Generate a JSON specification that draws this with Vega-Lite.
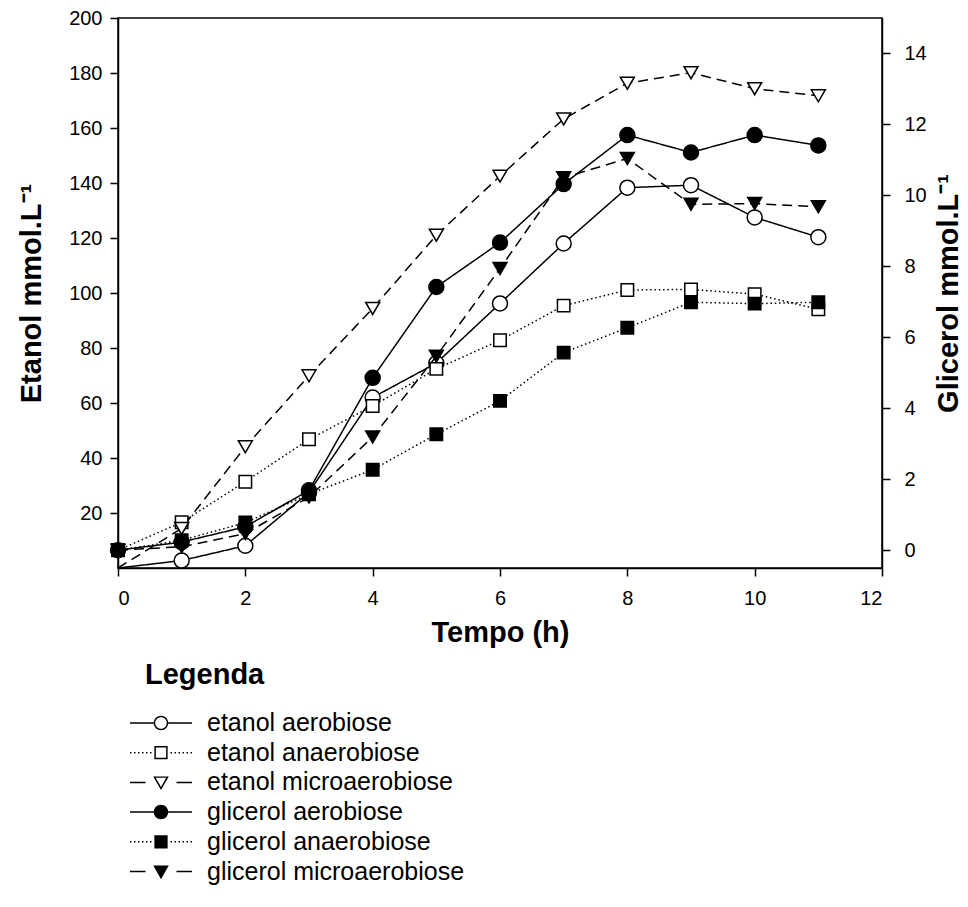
{
  "$schema": "https://vega.github.io/schema/vega-lite/v6.json",
  "width": 764,
  "height": 550,
  "autosize": "none",
  "padding": {"left": 118, "top": 18, "right": 86, "bottom": 339},
  "background": "white",
  "config": {
    "font": "Liberation Sans",
    "view": {"stroke": "black", "strokeWidth": 1.5},
    "axis": {
      "grid": false,
      "domainColor": "black",
      "domainWidth": 1.5,
      "tickColor": "black",
      "tickWidth": 1.5,
      "tickSize": 8,
      "labelColor": "black",
      "labelFont": "Liberation Sans",
      "labelFontSize": 20,
      "titleColor": "black",
      "titleFont": "Liberation Sans",
      "titleFontSize": 29,
      "titleFontWeight": "bold"
    }
  },
  "data": {
    "values": [
      {"substancia": "etanol", "serie": "etanol aerobiose", "tempo": 0, "valor": 0},
      {"substancia": "etanol", "serie": "etanol aerobiose", "tempo": 1, "valor": 2.7},
      {"substancia": "etanol", "serie": "etanol aerobiose", "tempo": 2, "valor": 8.1},
      {"substancia": "etanol", "serie": "etanol aerobiose", "tempo": 3, "valor": 27.5},
      {"substancia": "etanol", "serie": "etanol aerobiose", "tempo": 4, "valor": 62},
      {"substancia": "etanol", "serie": "etanol aerobiose", "tempo": 5, "valor": 74.5},
      {"substancia": "etanol", "serie": "etanol aerobiose", "tempo": 6, "valor": 96.2},
      {"substancia": "etanol", "serie": "etanol aerobiose", "tempo": 7, "valor": 118},
      {"substancia": "etanol", "serie": "etanol aerobiose", "tempo": 8, "valor": 138.3},
      {"substancia": "etanol", "serie": "etanol aerobiose", "tempo": 9, "valor": 139.2},
      {"substancia": "etanol", "serie": "etanol aerobiose", "tempo": 10, "valor": 127.5},
      {"substancia": "etanol", "serie": "etanol aerobiose", "tempo": 11, "valor": 120.3},
      {"substancia": "etanol", "serie": "etanol anaerobiose", "tempo": 0, "valor": 6.5},
      {"substancia": "etanol", "serie": "etanol anaerobiose", "tempo": 1, "valor": 16.6},
      {"substancia": "etanol", "serie": "etanol anaerobiose", "tempo": 2, "valor": 31.4},
      {"substancia": "etanol", "serie": "etanol anaerobiose", "tempo": 3, "valor": 46.8},
      {"substancia": "etanol", "serie": "etanol anaerobiose", "tempo": 4, "valor": 58.9},
      {"substancia": "etanol", "serie": "etanol anaerobiose", "tempo": 5, "valor": 72.4},
      {"substancia": "etanol", "serie": "etanol anaerobiose", "tempo": 6, "valor": 82.8},
      {"substancia": "etanol", "serie": "etanol anaerobiose", "tempo": 7, "valor": 95.4},
      {"substancia": "etanol", "serie": "etanol anaerobiose", "tempo": 8, "valor": 101.1},
      {"substancia": "etanol", "serie": "etanol anaerobiose", "tempo": 9, "valor": 101.3},
      {"substancia": "etanol", "serie": "etanol anaerobiose", "tempo": 10, "valor": 99.6},
      {"substancia": "etanol", "serie": "etanol anaerobiose", "tempo": 11, "valor": 94.1},
      {"substancia": "etanol", "serie": "etanol microaerobiose", "tempo": 0, "valor": 0},
      {"substancia": "etanol", "serie": "etanol microaerobiose", "tempo": 1, "valor": 14.4},
      {"substancia": "etanol", "serie": "etanol microaerobiose", "tempo": 2, "valor": 44.1},
      {"substancia": "etanol", "serie": "etanol microaerobiose", "tempo": 3, "valor": 69.9},
      {"substancia": "etanol", "serie": "etanol microaerobiose", "tempo": 4, "valor": 94.4},
      {"substancia": "etanol", "serie": "etanol microaerobiose", "tempo": 5, "valor": 121},
      {"substancia": "etanol", "serie": "etanol microaerobiose", "tempo": 6, "valor": 142.5},
      {"substancia": "etanol", "serie": "etanol microaerobiose", "tempo": 7, "valor": 163.3},
      {"substancia": "etanol", "serie": "etanol microaerobiose", "tempo": 8, "valor": 176.3},
      {"substancia": "etanol", "serie": "etanol microaerobiose", "tempo": 9, "valor": 180.1},
      {"substancia": "etanol", "serie": "etanol microaerobiose", "tempo": 10, "valor": 174.3},
      {"substancia": "etanol", "serie": "etanol microaerobiose", "tempo": 11, "valor": 171.7},
      {"substancia": "glicerol", "serie": "glicerol aerobiose", "tempo": 0, "valor": 0},
      {"substancia": "glicerol", "serie": "glicerol aerobiose", "tempo": 1, "valor": 0.23},
      {"substancia": "glicerol", "serie": "glicerol aerobiose", "tempo": 2, "valor": 0.66},
      {"substancia": "glicerol", "serie": "glicerol aerobiose", "tempo": 3, "valor": 1.69},
      {"substancia": "glicerol", "serie": "glicerol aerobiose", "tempo": 4, "valor": 4.86},
      {"substancia": "glicerol", "serie": "glicerol aerobiose", "tempo": 5, "valor": 7.42},
      {"substancia": "glicerol", "serie": "glicerol aerobiose", "tempo": 6, "valor": 8.67},
      {"substancia": "glicerol", "serie": "glicerol aerobiose", "tempo": 7, "valor": 10.32},
      {"substancia": "glicerol", "serie": "glicerol aerobiose", "tempo": 8, "valor": 11.7},
      {"substancia": "glicerol", "serie": "glicerol aerobiose", "tempo": 9, "valor": 11.21},
      {"substancia": "glicerol", "serie": "glicerol aerobiose", "tempo": 10, "valor": 11.7},
      {"substancia": "glicerol", "serie": "glicerol aerobiose", "tempo": 11, "valor": 11.41},
      {"substancia": "glicerol", "serie": "glicerol anaerobiose", "tempo": 0, "valor": 0},
      {"substancia": "glicerol", "serie": "glicerol anaerobiose", "tempo": 1, "valor": 0.28},
      {"substancia": "glicerol", "serie": "glicerol anaerobiose", "tempo": 2, "valor": 0.78},
      {"substancia": "glicerol", "serie": "glicerol anaerobiose", "tempo": 3, "valor": 1.58},
      {"substancia": "glicerol", "serie": "glicerol anaerobiose", "tempo": 4, "valor": 2.27},
      {"substancia": "glicerol", "serie": "glicerol anaerobiose", "tempo": 5, "valor": 3.27},
      {"substancia": "glicerol", "serie": "glicerol anaerobiose", "tempo": 6, "valor": 4.21},
      {"substancia": "glicerol", "serie": "glicerol anaerobiose", "tempo": 7, "valor": 5.57},
      {"substancia": "glicerol", "serie": "glicerol anaerobiose", "tempo": 8, "valor": 6.27},
      {"substancia": "glicerol", "serie": "glicerol anaerobiose", "tempo": 9, "valor": 6.99},
      {"substancia": "glicerol", "serie": "glicerol anaerobiose", "tempo": 10, "valor": 6.95},
      {"substancia": "glicerol", "serie": "glicerol anaerobiose", "tempo": 11, "valor": 6.99},
      {"substancia": "glicerol", "serie": "glicerol microaerobiose", "tempo": 0, "valor": 0},
      {"substancia": "glicerol", "serie": "glicerol microaerobiose", "tempo": 1, "valor": 0.1},
      {"substancia": "glicerol", "serie": "glicerol microaerobiose", "tempo": 2, "valor": 0.47},
      {"substancia": "glicerol", "serie": "glicerol microaerobiose", "tempo": 3, "valor": 1.5},
      {"substancia": "glicerol", "serie": "glicerol microaerobiose", "tempo": 4, "valor": 3.19},
      {"substancia": "glicerol", "serie": "glicerol microaerobiose", "tempo": 5, "valor": 5.47},
      {"substancia": "glicerol", "serie": "glicerol microaerobiose", "tempo": 6, "valor": 7.94},
      {"substancia": "glicerol", "serie": "glicerol microaerobiose", "tempo": 7, "valor": 10.5},
      {"substancia": "glicerol", "serie": "glicerol microaerobiose", "tempo": 8, "valor": 11.04},
      {"substancia": "glicerol", "serie": "glicerol microaerobiose", "tempo": 9, "valor": 9.75},
      {"substancia": "glicerol", "serie": "glicerol microaerobiose", "tempo": 10, "valor": 9.77},
      {"substancia": "glicerol", "serie": "glicerol microaerobiose", "tempo": 11, "valor": 9.68}
    ]
  },
  "layer": [
    {
      "transform": [{"filter": {"field": "substancia", "equal": "etanol"}}],
      "encoding": {
        "x": {
          "field": "tempo",
          "type": "quantitative",
          "scale": {"domain": [0, 12], "nice": false},
          "axis": {"values": [0, 2, 4, 6, 8, 10, 12], "format": "d", "title": "Tempo (h)", "labelPadding": 12, "titlePadding": 10}
        },
        "y": {
          "field": "valor",
          "type": "quantitative",
          "scale": {"domain": [0, 200], "nice": false, "zero": false},
          "axis": {"orient": "left", "values": [20, 40, 60, 80, 100, 120, 140, 160, 180, 200], "title": "Etanol mmol.L⁻¹", "labelPadding": 8, "titlePadding": 22}
        }
      },
      "layer": [
        {
          "mark": {"type": "line", "color": "black", "strokeWidth": 1.5},
          "encoding": {
            "strokeDash": {
              "field": "serie",
              "type": "nominal",
              "scale": {"domain": ["etanol aerobiose", "etanol anaerobiose", "etanol microaerobiose"], "range": [[1, 0], [1.5, 2.8], [10, 6]]},
              "legend": null
            }
          }
        },
        {
          "transform": [{"filter": "datum.valor > 0"}],
          "mark": {"type": "point", "filled": true, "stroke": "black", "strokeWidth": 1.5, "opacity": 1, "size": 225},
          "encoding": {
            "shape": {
              "field": "serie",
              "type": "nominal",
              "scale": {
                "domain": ["etanol aerobiose", "etanol anaerobiose", "etanol microaerobiose"],
                "range": ["circle", "M-0.83,-0.83H0.83V0.83H-0.83Z", "M-0.93,-0.8H0.93L0,0.8Z"]
              },
              "legend": null
            },
            "fill": {"value": "white"}
          }
        }
      ]
    },
    {
      "transform": [{"filter": {"field": "substancia", "equal": "glicerol"}}],
      "encoding": {
        "x": {"field": "tempo", "type": "quantitative"},
        "y": {
          "field": "valor",
          "type": "quantitative",
          "scale": {"domain": [-0.5, 15], "nice": false, "zero": false},
          "axis": {"orient": "right", "values": [0, 2, 4, 6, 8, 10, 12, 14], "title": "Glicerol mmol.L⁻¹", "titleAngle": 270, "titleBaseline": "top", "labelPadding": 14, "titlePadding": 8}
        }
      },
      "layer": [
        {
          "mark": {"type": "line", "color": "black", "strokeWidth": 1.5},
          "encoding": {
            "strokeDash": {
              "field": "serie",
              "type": "nominal",
              "scale": {"domain": ["glicerol aerobiose", "glicerol anaerobiose", "glicerol microaerobiose"], "range": [[1, 0], [1.5, 2.8], [10, 6]]},
              "legend": null
            }
          }
        },
        {
          "mark": {"type": "point", "filled": true, "stroke": "black", "strokeWidth": 1.5, "opacity": 1, "size": 225},
          "encoding": {
            "shape": {
              "field": "serie",
              "type": "nominal",
              "scale": {
                "domain": ["glicerol aerobiose", "glicerol anaerobiose", "glicerol microaerobiose"],
                "range": ["circle", "M-0.83,-0.83H0.83V0.83H-0.83Z", "M-0.93,-0.8H0.93L0,0.8Z"]
              },
              "legend": null
            },
            "fill": {"value": "black"}
          }
        }
      ]
    },
    {
      "transform": [{"filter": "datum.tempo < 0"}],
      "mark": {"type": "point", "filled": true, "color": "black", "strokeWidth": 0, "size": 400},
      "encoding": {
        "shape": {
          "field": "serie",
          "type": "nominal",
          "scale": {
            "domain": ["etanol aerobiose", "etanol anaerobiose", "etanol microaerobiose", "glicerol aerobiose", "glicerol anaerobiose", "glicerol microaerobiose"],
            "range": [
              "M-3.1,-0.075H-0.725V0.075H-3.1Z M0.725,-0.075H3.1V0.075H0.725Z M-0.725,0A0.725,0.725,0,1,1,0.725,0A0.725,0.725,0,1,1,-0.725,0Z M-0.577,0A0.577,0.577,0,1,0,0.577,0A0.577,0.577,0,1,0,-0.577,0Z",
              "M-3.1,-0.075h0.15v0.15h-0.15Z M-2.7,-0.075h0.15v0.15h-0.15Z M-2.3,-0.075h0.15v0.15h-0.15Z M-1.9,-0.075h0.15v0.15h-0.15Z M-1.5,-0.075h0.15v0.15h-0.15Z M-1.1,-0.075h0.15v0.15h-0.15Z M0.95,-0.075h0.15v0.15h-0.15Z M1.35,-0.075h0.15v0.15h-0.15Z M1.75,-0.075h0.15v0.15h-0.15Z M2.15,-0.075h0.15v0.15h-0.15Z M2.55,-0.075h0.15v0.15h-0.15Z M2.95,-0.075h0.15v0.15h-0.15Z M-0.663,-0.663H0.663V0.663H-0.663Z M-0.515,-0.515V0.515H0.515V-0.515Z",
              "M-3.1,-0.075H-1.55V0.075H-3.1Z M1.55,-0.075H3.1V0.075H1.55Z M-0.778,-0.601L0.778,-0.601L0,0.772Z M-0.524,-0.453L0,0.468L0.524,-0.453Z",
              "M-3.1,-0.075H-0.725V0.075H-3.1Z M0.725,-0.075H3.1V0.075H0.725Z M-0.725,0A0.725,0.725,0,1,1,0.725,0A0.725,0.725,0,1,1,-0.725,0Z",
              "M-3.1,-0.075h0.15v0.15h-0.15Z M-2.7,-0.075h0.15v0.15h-0.15Z M-2.3,-0.075h0.15v0.15h-0.15Z M-1.9,-0.075h0.15v0.15h-0.15Z M-1.5,-0.075h0.15v0.15h-0.15Z M-1.1,-0.075h0.15v0.15h-0.15Z M0.95,-0.075h0.15v0.15h-0.15Z M1.35,-0.075h0.15v0.15h-0.15Z M1.75,-0.075h0.15v0.15h-0.15Z M2.15,-0.075h0.15v0.15h-0.15Z M2.55,-0.075h0.15v0.15h-0.15Z M2.95,-0.075h0.15v0.15h-0.15Z M-0.663,-0.663H0.663V0.663H-0.663Z",
              "M-3.1,-0.075H-1.55V0.075H-3.1Z M1.55,-0.075H3.1V0.075H1.55Z M-0.778,-0.601L0.778,-0.601L0,0.772Z"
            ]
          },
          "legend": {
            "title": "Legenda", "orient": "none", "legendX": 27, "legendY": 643, "padding": 0,
            "symbolSize": 400, "symbolFillColor": "black", "symbolStrokeWidth": 0, "symbolOpacity": 1,
            "symbolOffset": 3.5, "labelOffset": 33.5, "labelFont": "Liberation Sans", "labelFontSize": 25, "labelColor": "black", "labelLimit": 0,
            "titleFont": "Liberation Sans", "titleFontSize": 29, "titleFontWeight": "bold", "titleColor": "black", "titlePadding": 20.5,
            "rowPadding": 3.7
          }
        }
      }
    }
  ],
  "resolve": {
    "scale": {"y": "independent", "shape": "independent", "strokeDash": "independent"},
    "legend": {"shape": "independent", "strokeDash": "independent"}
  }
}
